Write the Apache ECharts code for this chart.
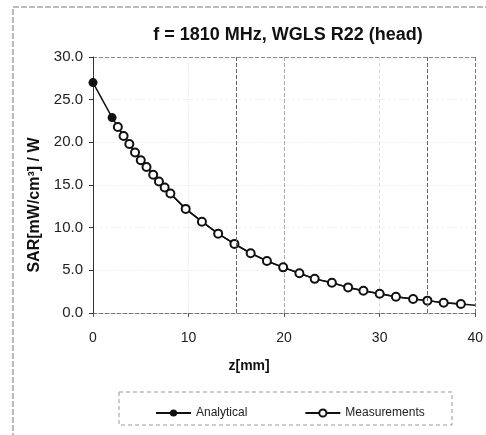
<!DOCTYPE html>
<html><head><meta charset="utf-8">
<script src="https://cdn.jsdelivr.net/npm/echarts@6/dist/echarts.min.js"></script>
<style>html,body{margin:0;padding:0;background:#fff}#c{width:486px;height:435px}</style>
</head><body><div id="c"></div>
<script>
const titleText = 'f = 1810 MHz, WGLS R22 (head)';
const xName = 'z[mm]';
const yName = 'SAR[mW/cm\u00b3] / W';
const analyticalZ = [0, 2.0];
const analyticalSAR = [27.0, 22.9];
const lineZ = [0, 2.0, 2.6, 3.2, 3.8, 4.4, 5.0, 5.6, 6.3, 6.9, 7.5, 8.1, 9.7, 11.4, 13.1, 14.8, 16.5, 18.2, 19.9, 21.6, 23.2, 25.0, 26.7, 28.3, 30.0, 31.7, 33.5, 35.0, 36.7, 38.5, 40.0];
const lineSAR = [27.0, 22.9, 21.8, 20.75, 19.8, 18.8, 17.9, 17.1, 16.2, 15.4, 14.7, 14.0, 12.2, 10.7, 9.3, 8.1, 7.0, 6.1, 5.35, 4.65, 4.0, 3.55, 3.0, 2.6, 2.25, 1.9, 1.65, 1.45, 1.2, 1.05, 0.9];
const measZ = [2.6, 3.2, 3.8, 4.4, 5.0, 5.6, 6.3, 6.9, 7.5, 8.1, 9.7, 11.4, 13.1, 14.8, 16.5, 18.2, 19.9, 21.6, 23.2, 25.0, 26.7, 28.3, 30.0, 31.7, 33.5, 35.0, 36.7, 38.5];
const measSAR = [21.8, 20.75, 19.8, 18.8, 17.9, 17.1, 16.2, 15.4, 14.7, 14.0, 12.2, 10.7, 9.3, 8.1, 7.0, 6.1, 5.35, 4.65, 4.0, 3.55, 3.0, 2.6, 2.25, 1.9, 1.65, 1.45, 1.2, 1.05];
const extraGridZ = [15, 35];

const font = 'Liberation Sans, Arial, sans-serif';
const chart = echarts.init(document.getElementById('c'), null, {renderer: 'canvas'});

const analyticalLine = lineZ.map((z, i) => {
  const isMarker = analyticalZ.indexOf(z) >= 0;
  return isMarker ? [z, lineSAR[i]] : {value: [z, lineSAR[i]], symbol: 'none'};
});
analyticalZ.forEach((z, i) => {
  const j = lineZ.indexOf(z);
  if (j >= 0) analyticalLine[j] = [z, analyticalSAR[i]];
});

chart.setOption({
  animation: false,
  backgroundColor: '#fff',
  title: {
    text: titleText, left: 283, top: 21, textAlign: 'center',
    textStyle: {fontFamily: font, fontSize: 18, fontWeight: 'bold', color: '#111'}
  },
  graphic: [
    {type: 'rect', shape: {x: 13, y: 7, width: 480, height: 440},
     style: {fill: 'none', stroke: '#777', lineWidth: 1, lineDash: [6, 2]}, silent: true},
    {type: 'rect', shape: {x: 119, y: 392, width: 333, height: 33},
     style: {fill: 'none', stroke: '#999', lineWidth: 1, lineDash: [4, 3]}, silent: true}
  ],
  legend: {
    left: 150, top: 402, itemGap: 57, itemWidth: 35, itemHeight: 9,
    textStyle: {fontFamily: font, fontSize: 12, color: '#222'},
    data: ['Analytical', 'Measurements']
  },
  grid: {left: 93, right: 9, top: 57, bottom: 122},
  xAxis: {
    type: 'value', min: 0, max: 40, interval: 10,
    name: xName, nameLocation: 'middle', nameGap: 46,
    nameTextStyle: {fontFamily: font, fontSize: 14, fontWeight: 'bold', color: '#111', padding: [0, 70, 0, 0]},
    axisLine: {show: true, onZero: false, lineStyle: {color: '#777', type: 'dashed'}},
    axisTick: {show: true, length: 4, lineStyle: {color: '#555'}},
    axisLabel: {fontFamily: font, fontSize: 14, color: '#222', margin: 18},
    splitLine: {show: true, lineStyle: {color: ['#fff', '#eee', '#aaa', '#ddd', '#777'], type: 'dashed', width: 1}}
  },
  yAxis: {
    type: 'value', min: 0, max: 30, interval: 5,
    name: yName, nameLocation: 'middle', nameGap: 50,
    nameTextStyle: {fontFamily: font, fontSize: 16, fontWeight: 'bold', color: '#111', padding: [0, 40, 0, 0]},
    axisLine: {show: true, lineStyle: {color: '#333'}},
    axisTick: {show: true, length: 4, lineStyle: {color: '#333'}},
    axisLabel: {fontFamily: font, fontSize: 15, color: '#222', margin: 10, formatter: v => v.toFixed(1)},
    splitLine: {show: true, lineStyle: {color: ['#fff', '#f2f2f2', '#f2f2f2', '#f2f2f2', '#f2f2f2', '#f2f2f2', '#888'], type: 'dashed'}}
  },
  series: [
    {
      name: 'Analytical', type: 'line', data: analyticalLine,
      symbol: 'circle', symbolSize: 9, showAllSymbol: true,
      lineStyle: {color: '#111', width: 1.5},
      itemStyle: {color: '#111'},
      z: 2,
      markLine: {
        silent: true, symbol: 'none', label: {show: false},
        lineStyle: {color: '#666', type: 'dashed', width: 1},
        data: extraGridZ.map(z => ({xAxis: z}))
      }
    },
    {
      name: 'Measurements', type: 'line',
      data: measZ.map((z, i) => [z, measSAR[i]]),
      symbol: 'circle', symbolSize: 8, showAllSymbol: true,
      lineStyle: {color: '#111', width: 1.5},
      itemStyle: {color: '#fff', borderColor: '#111', borderWidth: 2},
      z: 3
    }
  ]
});
</script></body></html>
